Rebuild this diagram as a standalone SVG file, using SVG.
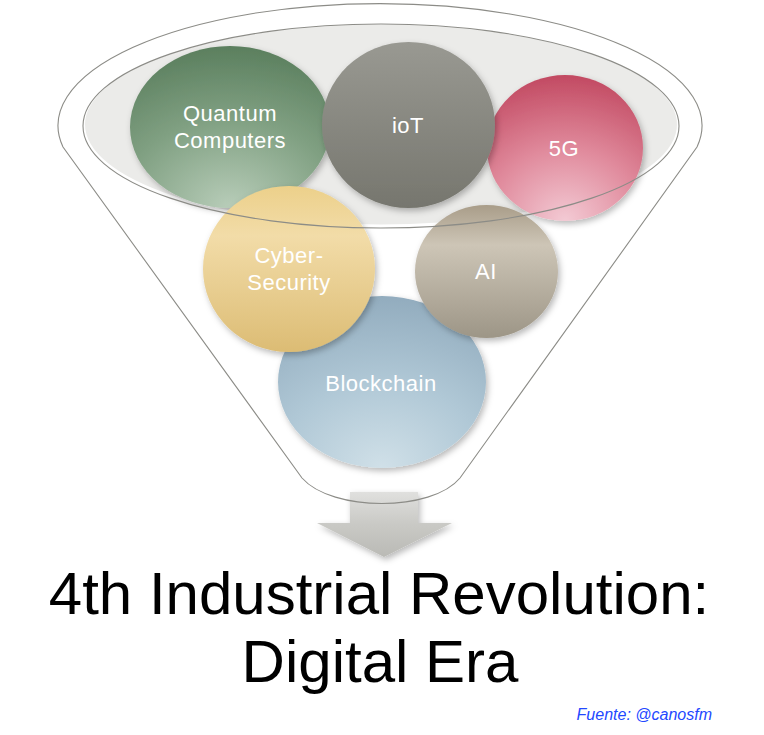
<svg xmlns="http://www.w3.org/2000/svg" width="764" height="735" viewBox="0 0 764 735">
  <style>
    .lbl { font-family: "Liberation Sans", Arial, sans-serif; font-size: 22px; fill: #ffffff; text-anchor: middle; letter-spacing: 0.5px; }
    .title { font-family: "Liberation Sans", Arial, sans-serif; font-size: 60px; fill: #000000; text-anchor: middle; }
    .src { font-family: "Liberation Sans", Arial, sans-serif; font-size: 16px; font-style: italic; fill: #2348ff; text-anchor: end; }
    .outline { fill: none; stroke: #8c8c87; stroke-width: 1.1; }
  </style>
  <defs>
    <filter id="sh" x="-20%" y="-20%" width="150%" height="150%">
      <feDropShadow dx="2" dy="3" stdDeviation="3" flood-color="#000" flood-opacity="0.28"/>
    </filter>
    <radialGradient id="gGreen" cx="0.5" cy="1" r="1" fx="0.5" fy="1">
      <stop offset="0" stop-color="#b8cdb9"/>
      <stop offset="0.55" stop-color="#80a082"/>
      <stop offset="1" stop-color="#5b7f5e"/>
    </radialGradient>
    <linearGradient id="gGray" x1="0" y1="0" x2="0" y2="1">
      <stop offset="0" stop-color="#999992"/>
      <stop offset="1" stop-color="#76766e"/>
    </linearGradient>
    <radialGradient id="gPink" cx="0.5" cy="1" r="1" fx="0.5" fy="1">
      <stop offset="0" stop-color="#f3cad4"/>
      <stop offset="0.5" stop-color="#e08a9c"/>
      <stop offset="1" stop-color="#c24a62"/>
    </radialGradient>
    <linearGradient id="gYellow" x1="0" y1="0" x2="0" y2="1">
      <stop offset="0" stop-color="#ecd08a"/>
      <stop offset="0.3" stop-color="#f2dca8"/>
      <stop offset="1" stop-color="#dcbc74"/>
    </linearGradient>
    <linearGradient id="gTaupe" x1="0" y1="0" x2="0" y2="1">
      <stop offset="0" stop-color="#a99d89"/>
      <stop offset="0.3" stop-color="#cdc5b6"/>
      <stop offset="1" stop-color="#9d9687"/>
    </linearGradient>
    <radialGradient id="gBlue" cx="0.5" cy="1" r="1" fx="0.5" fy="1">
      <stop offset="0" stop-color="#d0e0e8"/>
      <stop offset="0.5" stop-color="#b0c8d6"/>
      <stop offset="1" stop-color="#92acbe"/>
    </radialGradient>
    <linearGradient id="gArrow" x1="0" y1="0" x2="0" y2="1">
      <stop offset="0" stop-color="#e0e0de"/>
      <stop offset="0.5" stop-color="#c9c9c5"/>
      <stop offset="1" stop-color="#babab5"/>
    </linearGradient>
  </defs>

  <rect width="764" height="735" fill="#ffffff"/>

  <!-- funnel top inner ellipse fill -->
  <g id="funnel-top">
    <ellipse cx="381" cy="126" rx="298" ry="102" fill="#ffffff" stroke="none"/>
    <ellipse cx="381" cy="124.5" rx="296" ry="100" fill="#ebebe9" stroke="none"/>
  </g>

  <!-- connectors: output arrow -->
  <g id="connectors">
    <path d="M350,492 L418,492 L418,523 L452,523 L384,557 L317,523 L350,523 Z" fill="url(#gArrow)" filter="url(#sh)"/>
  </g>

  <g id="funnel">
    <path class="outline" d="M63,147 A322 122 0 1 1 697,147 L460,478 C432,512 332,512 302,478 Z"/>
  </g>

  <g id="node-blockchain">
    <ellipse cx="382" cy="382" rx="104" ry="86" fill="url(#gBlue)" filter="url(#sh)"/>
    <text class="lbl" x="381" y="391">Blockchain</text>
  </g>

  <g id="node-quantum">
    <ellipse cx="230" cy="127" rx="100" ry="81" fill="url(#gGreen)" filter="url(#sh)"/>
    <text class="lbl" x="230" y="121">Quantum</text>
    <text class="lbl" x="230" y="148">Computers</text>
  </g>

  <g id="node-5g">
    <ellipse cx="565" cy="148" rx="78" ry="73" fill="url(#gPink)" filter="url(#sh)"/>
    <text class="lbl" x="564" y="156">5G</text>
  </g>

  <g id="node-iot">
    <ellipse cx="408.5" cy="125" rx="86.5" ry="83" fill="url(#gGray)" filter="url(#sh)"/>
    <text class="lbl" x="408" y="133">ioT</text>
  </g>

  <g id="node-cybersecurity">
    <ellipse cx="289" cy="269" rx="86" ry="83" fill="url(#gYellow)" filter="url(#sh)"/>
    <text class="lbl" x="289" y="263">Cyber-</text>
    <text class="lbl" x="289" y="290">Security</text>
  </g>

  <g id="node-ai">
    <ellipse cx="486.5" cy="271.5" rx="71.5" ry="66.5" fill="url(#gTaupe)" filter="url(#sh)"/>
    <text class="lbl" x="486" y="279">AI</text>
  </g>

  <g id="funnel-rim">
    <ellipse class="outline" cx="381" cy="126" rx="298" ry="102"/>
  </g>

  <g id="title">
    <text class="title" x="379" y="614">4th Industrial Revolution:</text>
    <text class="title" x="380" y="682">Digital Era</text>
  </g>

  <g id="source">
    <text class="src" x="712" y="720">Fuente: @canosfm</text>
  </g>
</svg>
